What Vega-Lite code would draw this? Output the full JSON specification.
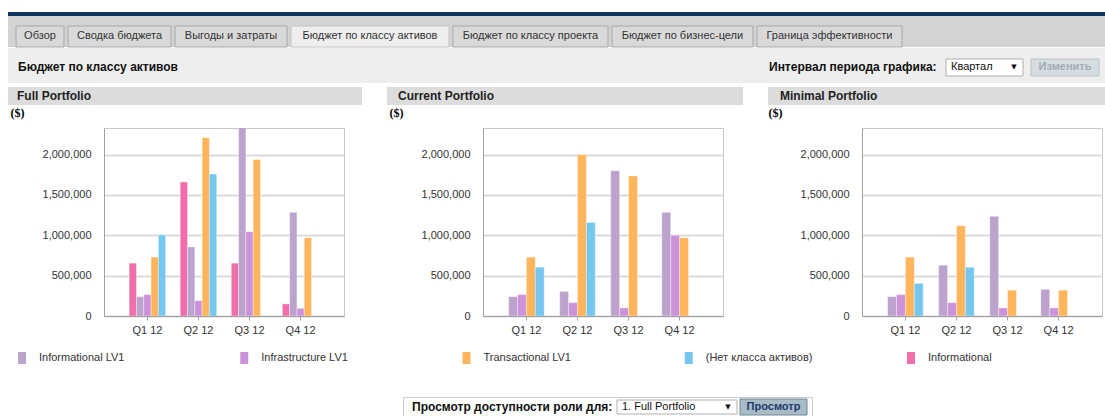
{
  "$schema": "https://vega.github.io/schema/vega-lite/v6.json",
  "background": "#ffffff",
  "padding": {"left": 8, "top": 12, "right": 0, "bottom": 0},
  "config": {
    "font": "Liberation Sans",
    "view": {"stroke": null},
    "text": {"font": "Liberation Sans"},
    "axis": {"labelFont": "Liberation Sans", "labelFontSize": 11, "labelColor": "#333333"}
  },
  "datasets": {
    "full": [
      {"q": "Q1 12", "s": "Informational", "v": 655000},
      {"q": "Q1 12", "s": "Informational LV1", "v": 240000},
      {"q": "Q1 12", "s": "Infrastructure LV1", "v": 265000},
      {"q": "Q1 12", "s": "Transactional LV1", "v": 730000},
      {"q": "Q1 12", "s": "(Нет класса активов)", "v": 1005000},
      {"q": "Q2 12", "s": "Informational", "v": 1660000},
      {"q": "Q2 12", "s": "Informational LV1", "v": 855000},
      {"q": "Q2 12", "s": "Infrastructure LV1", "v": 190000},
      {"q": "Q2 12", "s": "Transactional LV1", "v": 2210000},
      {"q": "Q2 12", "s": "(Нет класса активов)", "v": 1760000},
      {"q": "Q3 12", "s": "Informational", "v": 655000},
      {"q": "Q3 12", "s": "Informational LV1", "v": 2350000},
      {"q": "Q3 12", "s": "Infrastructure LV1", "v": 1045000},
      {"q": "Q3 12", "s": "Transactional LV1", "v": 1940000},
      {"q": "Q4 12", "s": "Informational", "v": 150000},
      {"q": "Q4 12", "s": "Informational LV1", "v": 1285000},
      {"q": "Q4 12", "s": "Infrastructure LV1", "v": 95000},
      {"q": "Q4 12", "s": "Transactional LV1", "v": 970000}
    ],
    "current": [
      {"q": "Q1 12", "s": "Informational LV1", "v": 240000},
      {"q": "Q1 12", "s": "Infrastructure LV1", "v": 265000},
      {"q": "Q1 12", "s": "Transactional LV1", "v": 730000},
      {"q": "Q1 12", "s": "(Нет класса активов)", "v": 605000},
      {"q": "Q2 12", "s": "Informational LV1", "v": 305000},
      {"q": "Q2 12", "s": "Infrastructure LV1", "v": 165000},
      {"q": "Q2 12", "s": "Transactional LV1", "v": 2000000},
      {"q": "Q2 12", "s": "(Нет класса активов)", "v": 1160000},
      {"q": "Q3 12", "s": "Informational LV1", "v": 1800000},
      {"q": "Q3 12", "s": "Infrastructure LV1", "v": 100000},
      {"q": "Q3 12", "s": "Transactional LV1", "v": 1735000},
      {"q": "Q4 12", "s": "Informational LV1", "v": 1285000},
      {"q": "Q4 12", "s": "Infrastructure LV1", "v": 1000000},
      {"q": "Q4 12", "s": "Transactional LV1", "v": 970000}
    ],
    "minimal": [
      {"q": "Q1 12", "s": "Informational LV1", "v": 240000},
      {"q": "Q1 12", "s": "Infrastructure LV1", "v": 265000},
      {"q": "Q1 12", "s": "Transactional LV1", "v": 730000},
      {"q": "Q1 12", "s": "(Нет класса активов)", "v": 405000},
      {"q": "Q2 12", "s": "Informational LV1", "v": 630000},
      {"q": "Q2 12", "s": "Infrastructure LV1", "v": 165000},
      {"q": "Q2 12", "s": "Transactional LV1", "v": 1120000},
      {"q": "Q2 12", "s": "(Нет класса активов)", "v": 605000},
      {"q": "Q3 12", "s": "Informational LV1", "v": 1235000},
      {"q": "Q3 12", "s": "Infrastructure LV1", "v": 100000},
      {"q": "Q3 12", "s": "Transactional LV1", "v": 320000},
      {"q": "Q4 12", "s": "Informational LV1", "v": 330000},
      {"q": "Q4 12", "s": "Infrastructure LV1", "v": 100000},
      {"q": "Q4 12", "s": "Transactional LV1", "v": 320000}
    ],
    "legend": [
      {"s": "Informational LV1"},
      {"s": "Infrastructure LV1"},
      {"s": "Transactional LV1"},
      {"s": "(Нет класса активов)"},
      {"s": "Informational"}
    ]
  },
  "columns": 1,
  "align": "none",
  "spacing": 0,
  "concat": [
    {"width": 1097, "height": 4, "view": {"fill": "#0e3463", "stroke": null}, "data": {"values": []}, "mark": "rect", "encoding": {}},
    {
      "spacing": 0,
      "hconcat": [
        {"width": 6, "height": 31, "view": {"fill": "#d3d3d3", "stroke": null}, "data": {"values": []}, "mark": "rect", "encoding": {}},
        {"width": 52, "height": 31, "view": {"fill": "#d3d3d3", "stroke": null}, "data": {"values": [{"t": "Обзор"}]},
         "encoding": {"x": {"field": "t", "type": "nominal", "axis": null, "scale": {"paddingInner": 0, "paddingOuter": 0.0417}},
                      "y": {"field": "t", "type": "nominal", "axis": null, "scale": {"paddingInner": 0, "paddingOuter": 0.238, "align": 1}}},
         "layer": [{"mark": {"type": "rect", "fill": "#d9d9d9", "stroke": "#a8a8a8", "strokeWidth": 1}},
                   {"mark": {"type": "text", "fontSize": 11, "fill": "#333333"}, "encoding": {"text": {"field": "t"}}}]},
        {"width": 107, "height": 31, "view": {"fill": "#d3d3d3", "stroke": null}, "data": {"values": [{"t": "Сводка бюджета"}]},
         "encoding": {"x": {"field": "t", "type": "nominal", "axis": null, "scale": {"paddingInner": 0, "paddingOuter": 0.0194}},
                      "y": {"field": "t", "type": "nominal", "axis": null, "scale": {"paddingInner": 0, "paddingOuter": 0.238, "align": 1}}},
         "layer": [{"mark": {"type": "rect", "fill": "#d9d9d9", "stroke": "#a8a8a8", "strokeWidth": 1}},
                   {"mark": {"type": "text", "fontSize": 11, "fill": "#333333"}, "encoding": {"text": {"field": "t"}}}]},
        {"width": 116, "height": 31, "view": {"fill": "#d3d3d3", "stroke": null}, "data": {"values": [{"t": "Выгоды и затраты"}]},
         "encoding": {"x": {"field": "t", "type": "nominal", "axis": null, "scale": {"paddingInner": 0, "paddingOuter": 0.0179}},
                      "y": {"field": "t", "type": "nominal", "axis": null, "scale": {"paddingInner": 0, "paddingOuter": 0.238, "align": 1}}},
         "layer": [{"mark": {"type": "rect", "fill": "#d9d9d9", "stroke": "#a8a8a8", "strokeWidth": 1}},
                   {"mark": {"type": "text", "fontSize": 11, "fill": "#333333"}, "encoding": {"text": {"field": "t"}}}]},
        {"width": 162, "height": 31, "view": {"fill": "#d3d3d3", "stroke": null}, "data": {"values": [{"t": "Бюджет по классу активов"}]},
         "encoding": {"x": {"field": "t", "type": "nominal", "axis": null, "scale": {"paddingInner": 0, "paddingOuter": 0.0127}},
                      "y": {"field": "t", "type": "nominal", "axis": null, "scale": {"paddingInner": 0, "paddingOuter": 0.238, "align": 1}}},
         "layer": [{"mark": {"type": "rect", "fill": "#eeeeee", "stroke": "#c4c4c4", "strokeWidth": 1}},
                   {"mark": {"type": "text", "fontSize": 11, "fill": "#333333"}, "encoding": {"text": {"field": "t"}}}]},
        {"width": 159, "height": 31, "view": {"fill": "#d3d3d3", "stroke": null}, "data": {"values": [{"t": "Бюджет по классу проекта"}]},
         "encoding": {"x": {"field": "t", "type": "nominal", "axis": null, "scale": {"paddingInner": 0, "paddingOuter": 0.0129}},
                      "y": {"field": "t", "type": "nominal", "axis": null, "scale": {"paddingInner": 0, "paddingOuter": 0.238, "align": 1}}},
         "layer": [{"mark": {"type": "rect", "fill": "#d9d9d9", "stroke": "#a8a8a8", "strokeWidth": 1}},
                   {"mark": {"type": "text", "fontSize": 11, "fill": "#333333"}, "encoding": {"text": {"field": "t"}}}]},
        {"width": 145, "height": 31, "view": {"fill": "#d3d3d3", "stroke": null}, "data": {"values": [{"t": "Бюджет по бизнес-цели"}]},
         "encoding": {"x": {"field": "t", "type": "nominal", "axis": null, "scale": {"paddingInner": 0, "paddingOuter": 0.0142}},
                      "y": {"field": "t", "type": "nominal", "axis": null, "scale": {"paddingInner": 0, "paddingOuter": 0.238, "align": 1}}},
         "layer": [{"mark": {"type": "rect", "fill": "#d9d9d9", "stroke": "#a8a8a8", "strokeWidth": 1}},
                   {"mark": {"type": "text", "fontSize": 11, "fill": "#333333"}, "encoding": {"text": {"field": "t"}}}]},
        {"width": 149, "height": 31, "view": {"fill": "#d3d3d3", "stroke": null}, "data": {"values": [{"t": "Граница эффективности"}]},
         "encoding": {"x": {"field": "t", "type": "nominal", "axis": null, "scale": {"paddingInner": 0, "paddingOuter": 0.0138}},
                      "y": {"field": "t", "type": "nominal", "axis": null, "scale": {"paddingInner": 0, "paddingOuter": 0.238, "align": 1}}},
         "layer": [{"mark": {"type": "rect", "fill": "#d9d9d9", "stroke": "#a8a8a8", "strokeWidth": 1}},
                   {"mark": {"type": "text", "fontSize": 11, "fill": "#333333"}, "encoding": {"text": {"field": "t"}}}]},
        {"width": 201, "height": 31, "view": {"fill": "#d3d3d3", "stroke": null}, "data": {"values": []}, "mark": "rect", "encoding": {}}
      ]
    },
    {
      "spacing": 0,
      "hconcat": [
        {"width": 752, "height": 35, "view": {"fill": "#eeeeee", "stroke": null}, "data": {"values": [{"t": "Бюджет по классу активов"}]},
         "mark": {"type": "text", "align": "left", "dx": 10, "dy": 1, "fontSize": 12, "fontWeight": "bold", "fill": "#111111"},
         "encoding": {"x": {"field": "t", "type": "nominal", "axis": null, "scale": {"type": "point", "padding": 0, "align": 0}}, "text": {"field": "t"}}},
        {"width": 182, "height": 35, "view": {"fill": "#eeeeee", "stroke": null}, "data": {"values": [{"t": "Интервал периода графика:"}]},
         "mark": {"type": "text", "align": "left", "dx": 9, "dy": 1, "fontSize": 12, "fontWeight": "bold", "fill": "#111111"},
         "encoding": {"x": {"field": "t", "type": "nominal", "axis": null, "scale": {"type": "point", "padding": 0, "align": 0}}, "text": {"field": "t"}}},
        {"width": 85, "height": 35, "view": {"fill": "#eeeeee", "stroke": null}, "data": {"values": [{"t": "Квартал", "a": "▼"}]},
         "encoding": {"y": {"field": "t", "type": "nominal", "axis": null, "scale": {"paddingInner": 0, "paddingOuter": 0.529, "align": 0.611}}},
         "layer": [
           {"mark": {"type": "rect", "fill": "#ffffff", "stroke": "#b0b0b0", "strokeWidth": 1},
            "encoding": {"x": {"field": "t", "type": "nominal", "axis": null, "scale": {"paddingInner": 0, "paddingOuter": 0.052}}}},
           {"mark": {"type": "text", "align": "left", "dx": -33.5, "fontSize": 11, "fill": "#111111"},
            "encoding": {"text": {"field": "t"}}},
           {"mark": {"type": "text", "align": "center", "dx": 29.5, "font": "DejaVu Sans", "fontSize": 7, "fill": "#111111"},
            "encoding": {"text": {"field": "a"}}}
         ]},
        {"width": 78, "height": 35, "view": {"fill": "#eeeeee", "stroke": null}, "data": {"values": [{"t": "Изменить"}]},
         "encoding": {"x": {"field": "t", "type": "nominal", "axis": null, "scale": {"paddingInner": 0, "paddingOuter": 0.0735, "align": 0.4}},
                      "y": {"field": "t", "type": "nominal", "axis": null, "scale": {"paddingInner": 0, "paddingOuter": 0.529, "align": 0.611}}},
         "layer": [
           {"mark": {"type": "rect", "fill": "#d6dde1", "stroke": "#b8c2c8", "strokeWidth": 1}},
           {"mark": {"type": "text", "fontSize": 11, "fontWeight": "bold", "fill": "#a3adb4"}, "encoding": {"text": {"field": "t"}}}
         ]}
      ]
    },
    {"width": 1097, "height": 4, "data": {"values": []}, "mark": "rect", "encoding": {}},
    {
      "spacing": 25,
      "hconcat": [
        {"width": 354, "height": 18, "view": {"fill": "#dcdcdc", "stroke": null}, "data": {"values": [{"t": "Full Portfolio"}]},
         "mark": {"type": "text", "align": "left", "dx": 9, "fontSize": 12, "fontWeight": "bold", "fill": "#222222"},
         "encoding": {"x": {"field": "t", "type": "nominal", "axis": null, "scale": {"type": "point", "padding": 0, "align": 0}}, "text": {"field": "t"}}},
        {"width": 356, "height": 18, "view": {"fill": "#dcdcdc", "stroke": null}, "data": {"values": [{"t": "Current Portfolio"}]},
         "mark": {"type": "text", "align": "left", "dx": 11, "fontSize": 12, "fontWeight": "bold", "fill": "#222222"},
         "encoding": {"x": {"field": "t", "type": "nominal", "axis": null, "scale": {"type": "point", "padding": 0, "align": 0}}, "text": {"field": "t"}}},
        {"width": 337, "height": 18, "view": {"fill": "#dcdcdc", "stroke": null}, "data": {"values": [{"t": "Minimal Portfolio"}]},
         "mark": {"type": "text", "align": "left", "dx": 12, "fontSize": 12, "fontWeight": "bold", "fill": "#222222"},
         "encoding": {"x": {"field": "t", "type": "nominal", "axis": null, "scale": {"type": "point", "padding": 0, "align": 0}}, "text": {"field": "t"}}}
      ]
    },
    {
      "spacing": 0,
      "resolve": {"scale": {"x": "independent", "y": "independent", "xOffset": "independent", "color": "independent"}},
      "hconcat": [
        {"width": 1, "height": 188, "data": {"values": []}, "mark": "rect", "encoding": {}},
        {"width": 240, "height": 188, "view": {"stroke": "#c8c8c8", "strokeWidth": 1}, "data": {"name": "full"},
         "mark": {"type": "bar", "clip": true, "stroke": "#ffffff", "strokeOpacity": 0.35, "strokeWidth": 1},
         "encoding": {
           "x": {"field": "q", "type": "nominal", "scale": {"paddingInner": 0, "paddingOuter": 0.35},
                 "axis": {"title": null, "labelAngle": 0, "ticks": true, "tickSize": 4, "tickColor": "#a0a0a0", "domainColor": "#a0a0a0", "labelPadding": 4, "grid": false}},
           "xOffset": {"field": "s", "type": "nominal", "scale": {"domain": ["Informational", "Informational LV1", "Infrastructure LV1", "Transactional LV1", "(Нет класса активов)"], "paddingInner": 0, "paddingOuter": 1.086}},
           "y": {"field": "v", "type": "quantitative", "scale": {"domain": [0, 2330000], "nice": false},
                 "axis": {"values": [0, 500000, 1000000, 1500000, 2000000], "format": ",d", "ticks": false, "labelPadding": 13, "domainColor": "#a0a0a0", "gridColor": "#dcdcdc", "gridWidth": 2,
                          "title": "($)", "titleFont": "Liberation Serif", "titleFontSize": 12, "titleFontWeight": "bold", "titleColor": "#000000", "titleAngle": 0, "titleAlign": "left", "titleBaseline": "top", "titleX": -94, "titleY": -21}},
           "color": {"field": "s", "type": "nominal", "legend": null,
                     "scale": {"domain": ["Informational", "Informational LV1", "Infrastructure LV1", "Transactional LV1", "(Нет класса активов)"], "range": ["#f06eaa", "#bba3ce", "#cd93da", "#ffb55c", "#76c7ef"]}}
         }},
        {"width": 43, "height": 188, "data": {"values": []}, "mark": "rect", "encoding": {}},
        {"width": 240, "height": 188, "view": {"stroke": "#c8c8c8", "strokeWidth": 1}, "data": {"name": "current"},
         "mark": {"type": "bar", "clip": true, "stroke": "#ffffff", "strokeOpacity": 0.35, "strokeWidth": 1},
         "encoding": {
           "x": {"field": "q", "type": "nominal", "scale": {"paddingInner": 0, "paddingOuter": 0.35},
                 "axis": {"title": null, "labelAngle": 0, "ticks": true, "tickSize": 4, "tickColor": "#a0a0a0", "domainColor": "#a0a0a0", "labelPadding": 4, "grid": false}},
           "xOffset": {"field": "s", "type": "nominal", "scale": {"domain": ["Informational LV1", "Infrastructure LV1", "Transactional LV1", "(Нет класса активов)"], "paddingInner": 0, "paddingOuter": 0.87}},
           "y": {"field": "v", "type": "quantitative", "scale": {"domain": [0, 2330000], "nice": false},
                 "axis": {"values": [0, 500000, 1000000, 1500000, 2000000], "format": ",d", "ticks": false, "labelPadding": 13, "domainColor": "#a0a0a0", "gridColor": "#dcdcdc", "gridWidth": 2,
                          "title": "($)", "titleFont": "Liberation Serif", "titleFontSize": 12, "titleFontWeight": "bold", "titleColor": "#000000", "titleAngle": 0, "titleAlign": "left", "titleBaseline": "top", "titleX": -94, "titleY": -21}},
           "color": {"field": "s", "type": "nominal", "legend": null,
                     "scale": {"domain": ["Informational", "Informational LV1", "Infrastructure LV1", "Transactional LV1", "(Нет класса активов)"], "range": ["#f06eaa", "#bba3ce", "#cd93da", "#ffb55c", "#76c7ef"]}}
         }},
        {"width": 43, "height": 188, "data": {"values": []}, "mark": "rect", "encoding": {}},
        {"width": 240, "height": 188, "view": {"stroke": "#c8c8c8", "strokeWidth": 1}, "data": {"name": "minimal"},
         "mark": {"type": "bar", "clip": true, "stroke": "#ffffff", "strokeOpacity": 0.35, "strokeWidth": 1},
         "encoding": {
           "x": {"field": "q", "type": "nominal", "scale": {"paddingInner": 0, "paddingOuter": 0.35},
                 "axis": {"title": null, "labelAngle": 0, "ticks": true, "tickSize": 4, "tickColor": "#a0a0a0", "domainColor": "#a0a0a0", "labelPadding": 4, "grid": false}},
           "xOffset": {"field": "s", "type": "nominal", "scale": {"domain": ["Informational LV1", "Infrastructure LV1", "Transactional LV1", "(Нет класса активов)"], "paddingInner": 0, "paddingOuter": 0.87}},
           "y": {"field": "v", "type": "quantitative", "scale": {"domain": [0, 2330000], "nice": false},
                 "axis": {"values": [0, 500000, 1000000, 1500000, 2000000], "format": ",d", "ticks": false, "labelPadding": 13, "domainColor": "#a0a0a0", "gridColor": "#dcdcdc", "gridWidth": 2,
                          "title": "($)", "titleFont": "Liberation Serif", "titleFontSize": 12, "titleFontWeight": "bold", "titleColor": "#000000", "titleAngle": 0, "titleAlign": "left", "titleBaseline": "top", "titleX": -94, "titleY": -21}},
           "color": {"field": "s", "type": "nominal", "legend": null,
                     "scale": {"domain": ["Informational", "Informational LV1", "Infrastructure LV1", "Transactional LV1", "(Нет класса активов)"], "range": ["#f06eaa", "#bba3ce", "#cd93da", "#ffb55c", "#76c7ef"]}}
         }}
      ]
    },
    {"width": 1097, "height": 16, "data": {"values": []}, "mark": "rect", "encoding": {}},
    {
      "spacing": 0,
      "hconcat": [
        {"width": 9, "height": 12, "data": {"values": []}, "mark": "rect", "encoding": {}},
        {"width": 889, "height": 12, "data": {"name": "legend"},
         "encoding": {"x": {"field": "s", "type": "nominal", "axis": null, "sort": null, "scale": {"type": "point", "padding": 0}}},
         "layer": [
           {"mark": {"type": "point", "shape": "M-0.667,-1H0.667V1H-0.667Z", "filled": true, "size": 144, "opacity": 1},
            "encoding": {"color": {"field": "s", "type": "nominal", "legend": null,
                                   "scale": {"domain": ["Informational", "Informational LV1", "Infrastructure LV1", "Transactional LV1", "(Нет класса активов)"], "range": ["#f06eaa", "#bba3ce", "#cd93da", "#ffb55c", "#76c7ef"]}}}},
           {"mark": {"type": "text", "align": "left", "dx": 17, "fontSize": 11, "fill": "#333333"}, "encoding": {"text": {"field": "s"}}}
         ]}
      ]
    },
    {"width": 1097, "height": 33, "data": {"values": []}, "mark": "rect", "encoding": {}},
    {
      "spacing": 0,
      "hconcat": [
        {"width": 395, "height": 19, "data": {"values": []}, "mark": "rect", "encoding": {}},
        {
          "spacing": 0,
          "vconcat": [
            {"width": 410, "height": 1, "view": {"fill": "#cccccc", "stroke": null}, "data": {"values": []}, "mark": "rect", "encoding": {}},
            {
              "spacing": 0,
              "hconcat": [
                {"width": 1, "height": 18, "view": {"fill": "#cccccc", "stroke": null}, "data": {"values": []}, "mark": "rect", "encoding": {}},
                {"width": 212, "height": 18, "data": {"values": [{"t": "Просмотр доступности роли для:"}]},
                 "mark": {"type": "text", "align": "left", "dx": 8, "fontSize": 12, "fontWeight": "bold", "fill": "#111111"},
                 "encoding": {"x": {"field": "t", "type": "nominal", "axis": null, "scale": {"type": "point", "padding": 0, "align": 0}}, "text": {"field": "t"}}},
                {"width": 122, "height": 18, "data": {"values": [{"t": "1. Full Portfolio", "a": "▼"}]},
                 "encoding": {"y": {"field": "t", "type": "nominal", "axis": null, "scale": {"paddingInner": 0, "paddingOuter": 0.143, "align": 0.5}}},
                 "layer": [
                   {"mark": {"type": "rect", "fill": "#ffffff", "stroke": "#b0b0b0", "strokeWidth": 1},
                    "encoding": {"x": {"field": "t", "type": "nominal", "axis": null, "scale": {"paddingInner": 0, "paddingOuter": 0.0083}}}},
                   {"mark": {"type": "text", "align": "left", "dx": -55, "fontSize": 11, "fill": "#111111"},
                    "encoding": {"text": {"field": "t"}}},
                   {"mark": {"type": "text", "align": "center", "dx": 51, "font": "DejaVu Sans", "fontSize": 7, "fill": "#111111"},
                    "encoding": {"text": {"field": "a"}}}
                 ]},
                {"width": 72, "height": 18, "data": {"values": [{"t": "Просмотр"}]},
                 "encoding": {"x": {"field": "t", "type": "nominal", "axis": null, "scale": {"paddingInner": 0, "paddingOuter": 0.0373, "align": 0.4}},
                              "y": {"field": "t", "type": "nominal", "axis": null, "scale": {"paddingInner": 0, "paddingOuter": 0.0625, "align": 0.5}}},
                 "layer": [
                   {"mark": {"type": "rect", "fill": "#a9bcc6", "stroke": "#72899a", "strokeWidth": 1}},
                   {"mark": {"type": "text", "fontSize": 11, "fontWeight": "bold", "fill": "#1c3a6e"}, "encoding": {"text": {"field": "t"}}}
                 ]},
                {"width": 2, "height": 18, "data": {"values": []}, "mark": "rect", "encoding": {}},
                {"width": 1, "height": 18, "view": {"fill": "#cccccc", "stroke": null}, "data": {"values": []}, "mark": "rect", "encoding": {}}
              ]
            }
          ]
        }
      ]
    }
  ]
}
